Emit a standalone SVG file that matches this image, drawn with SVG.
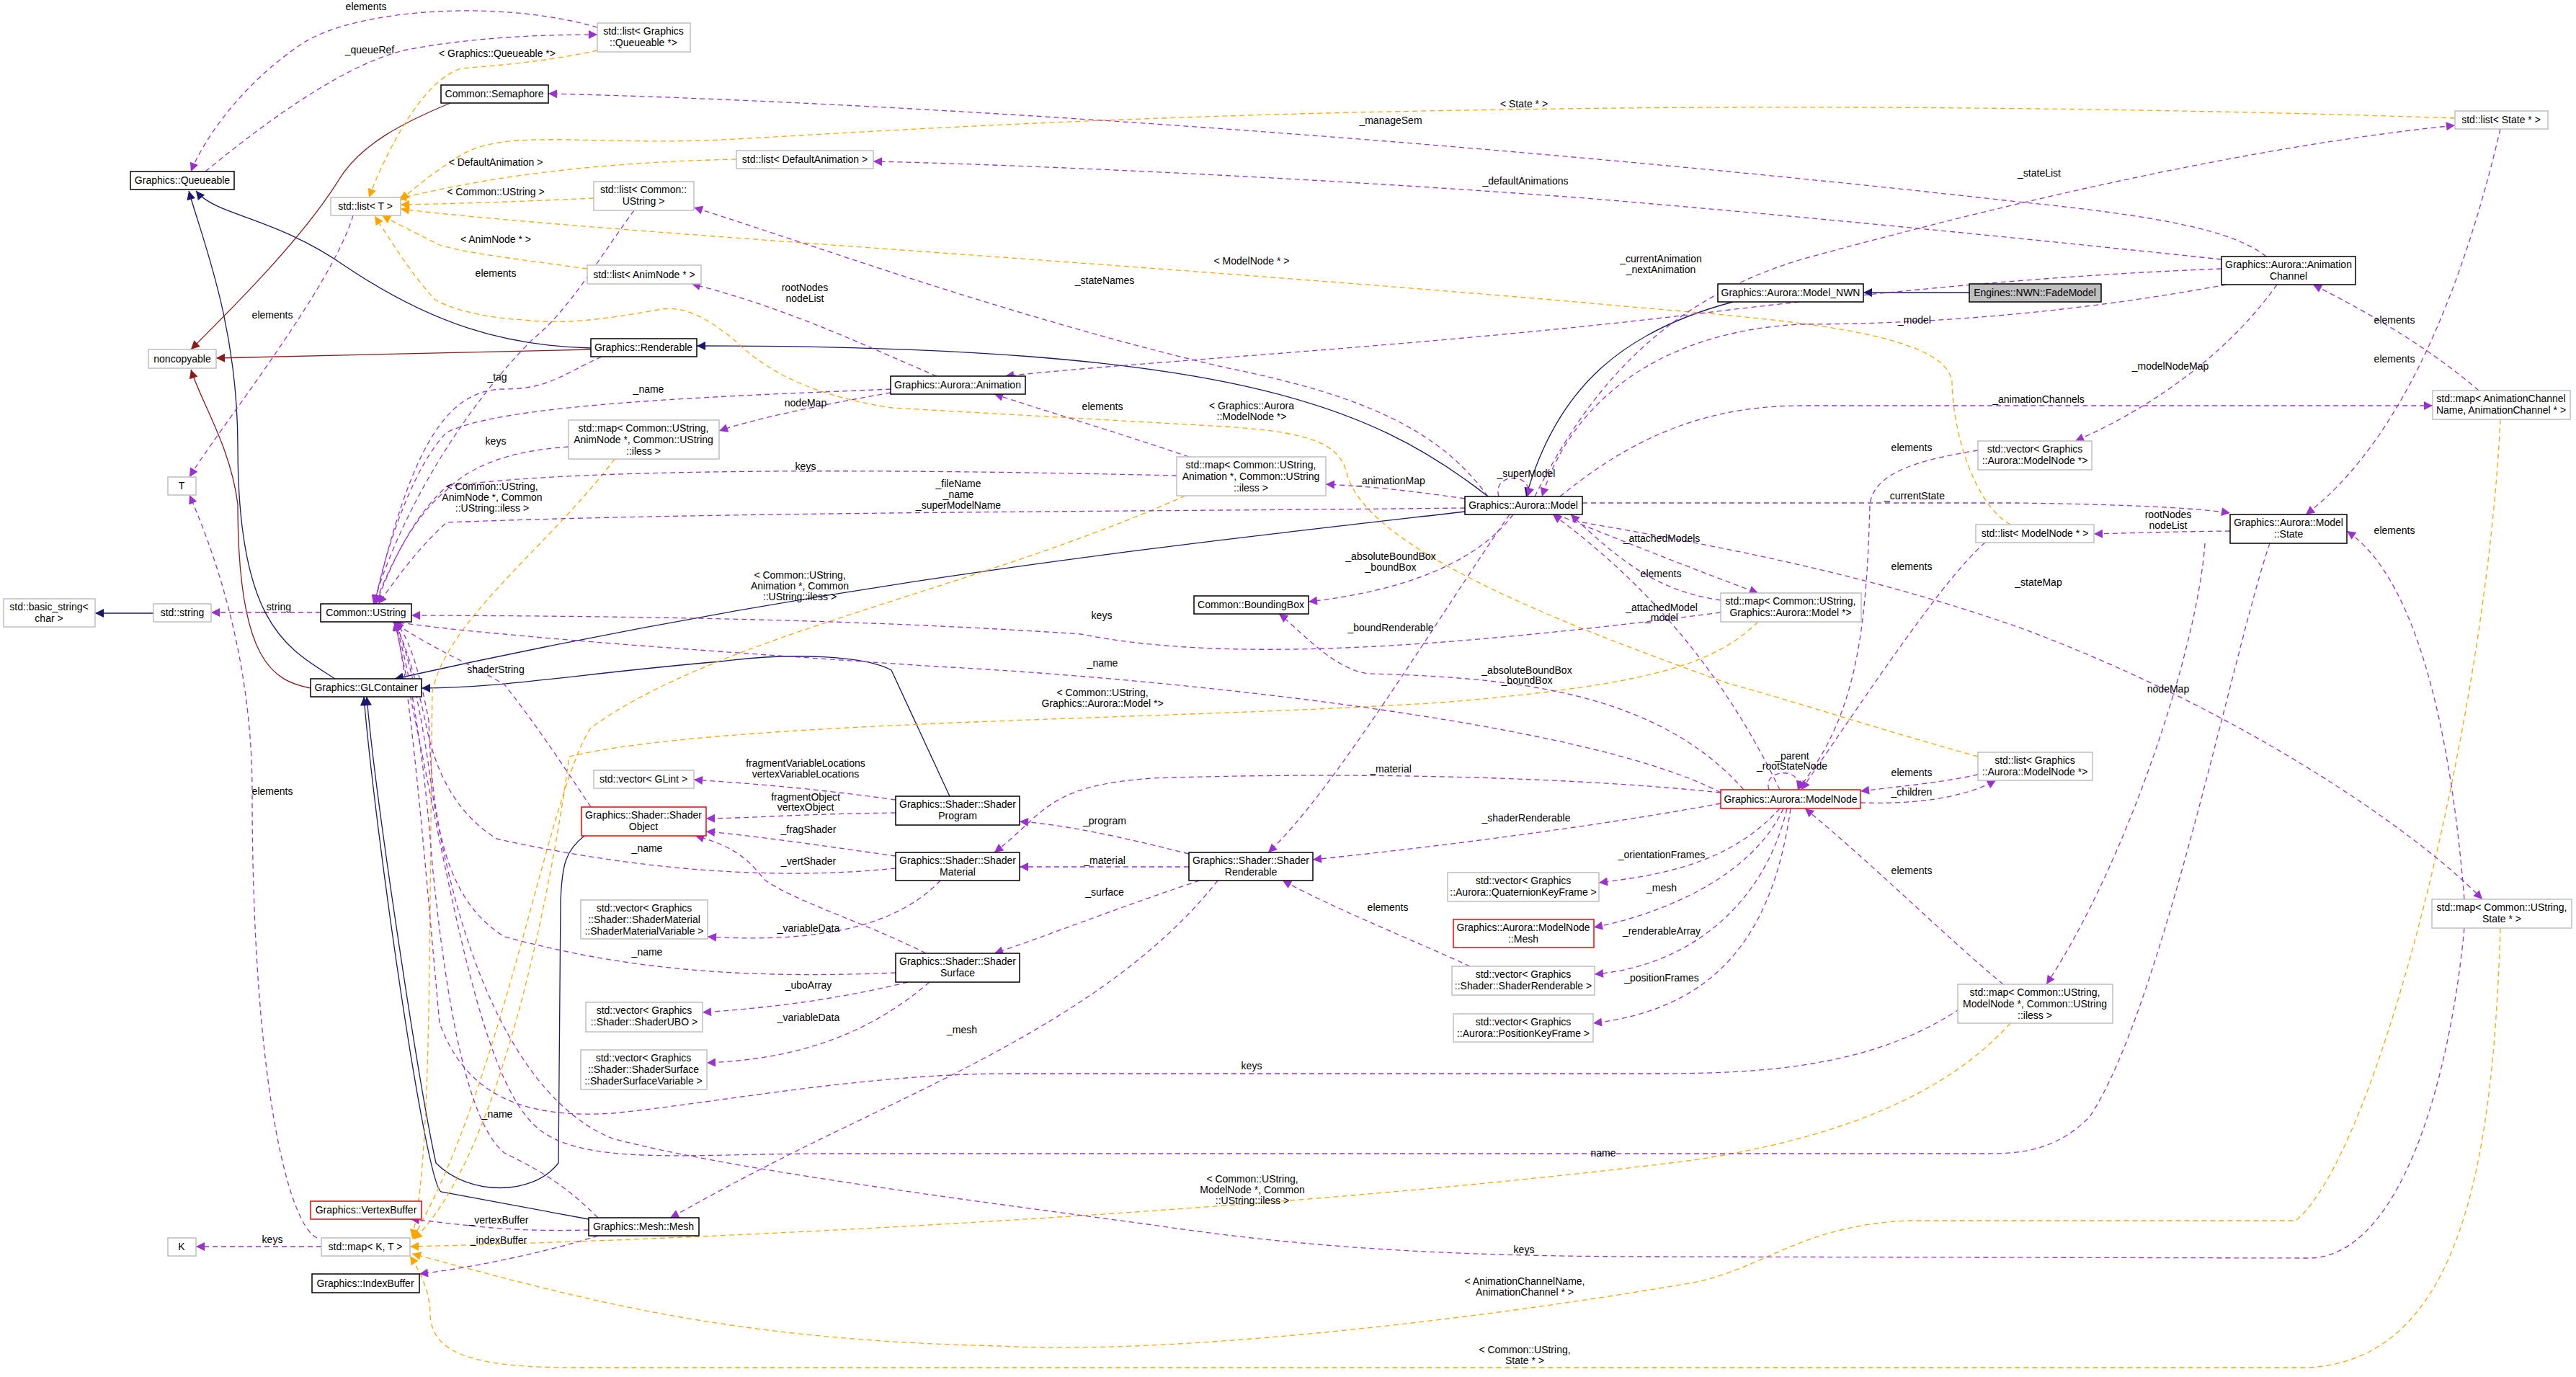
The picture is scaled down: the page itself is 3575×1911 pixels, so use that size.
<svg xmlns="http://www.w3.org/2000/svg" width="3575" height="1911" viewBox="0 0 3575 1911">
<style>
text{font-family:"Liberation Sans",Arial,sans-serif;font-size:14px;fill:#000}
.n rect{fill:#fff;stroke:#000;stroke-width:1.5}
.g rect{fill:#fff;stroke:#bfbfbf;stroke-width:1.5}
.r rect{fill:#fff;stroke:#ff0000;stroke-width:1.5}
.f rect{fill:#bfbfbf;stroke:#000;stroke-width:1.5}
.n text,.g text,.r text,.f text{text-anchor:middle}
.e path{fill:none;stroke-width:1.3}
.p{stroke:#9a32cd;stroke-dasharray:7,5;marker-end:url(#mP)}
.o{stroke:#ffa500;stroke-dasharray:7,5;marker-end:url(#mO)}
.i{stroke:#191970;marker-end:url(#mN)}
.k{stroke:#8b1a1a;marker-end:url(#mR)}
.l text{text-anchor:middle}
</style>
<defs>
<marker id="mP" viewBox="0 0 10 10" refX="10" refY="5" markerWidth="14" markerHeight="12" markerUnits="userSpaceOnUse" orient="auto"><path d="M0,0L10,5L0,10z" fill="#9a32cd"/></marker>
<marker id="mO" viewBox="0 0 10 10" refX="10" refY="5" markerWidth="14" markerHeight="12" markerUnits="userSpaceOnUse" orient="auto"><path d="M0,0L10,5L0,10z" fill="#ffa500"/></marker>
<marker id="mN" viewBox="0 0 10 10" refX="10" refY="5" markerWidth="14" markerHeight="12" markerUnits="userSpaceOnUse" orient="auto"><path d="M0,0L10,5L0,10z" fill="#191970"/></marker>
<marker id="mR" viewBox="0 0 10 10" refX="10" refY="5" markerWidth="14" markerHeight="12" markerUnits="userSpaceOnUse" orient="auto"><path d="M0,0L10,5L0,10z" fill="#8b1a1a"/></marker>
</defs>
<rect width="3575" height="1911" fill="#fff"/>
<g id="edges" class="e">
<path class="i" d="M820,483 C700,480 600,450 480,370 C380,300 300,300 272,265"/>
<path class="i" d="M465,942 C400,900 330,870 330,620 C330,450 280,330 262,265"/>
<path class="i" d="M2065,689 C1900,560 1700,480 967,480"/>
<path class="i" d="M2033,710 C1600,760 1150,808 548,942"/>
<path class="i" d="M1318,1105 L1237,930 C1200,910 1100,905 1000,918 C800,935 700,955 585,955"/>
<path class="i" d="M811,1160 C785,1180 780,1200 778,1250 L775,1614 C740,1660 650,1660 605,1614 C580,1500 520,1100 509,967"/>
<path class="i" d="M817,1692 L612,1654 C590,1640 520,1150 505,967"/>
<path class="i" d="M2405,419 C2250,460 2160,540 2118,689"/>
<path class="i" d="M2733,406 L2586,406"/>
<path class="i" d="M213,851 L132,851"/>
<path class="k" d="M625,143 C560,170 500,200 470,250 C420,330 330,420 265,485"/>
<path class="k" d="M820,485 L300,497"/>
<path class="k" d="M431,955 C380,945 330,920 330,700 C320,620 280,560 265,513"/>
<path class="o" d="M829,70 C760,85 700,90 640,95 C590,110 540,200 512,274"/>
<path class="o" d="M1022,221 C850,225 700,240 552,276"/>
<path class="o" d="M824,275 C720,280 620,283 556,284"/>
<path class="o" d="M815,373 C720,360 640,350 610,340 C590,330 560,315 530,299"/>
<path class="o" d="M3407,164 C3000,150 2500,145 2100,152 C1500,160 1100,190 980,195 C800,200 700,180 640,215 C600,240 570,265 556,278"/>
<path class="o" d="M2790,728 C2740,700 2710,600 2709,530 C2700,450 2400,440 2200,420 C1500,360 800,320 556,290"/>
<path class="o" d="M2745,1050 C2600,1010 2480,970 2400,949 C2150,860 1900,760 1870,660 C1860,615 1820,600 1700,592 L1238,566 C1100,545 1050,500 1018,471 C980,440 950,425 918,429 C830,445 780,450 727,444 C650,440 610,420 604,416 C570,380 540,330 520,300"/>
<path class="o" d="M853,637 C760,760 620,860 600,960 C595,1300 600,1600 572,1718"/>
<path class="o" d="M1645,688 C1350,820 1000,880 820,1010 C760,1100 700,1500 572,1720"/>
<path class="o" d="M2440,863 C2380,920 2300,950 2000,975 C1600,1000 1000,1000 790,1050 C770,1200 700,1600 574,1720"/>
<path class="o" d="M2790,1420 C2700,1520 2550,1580 2350,1610 C1800,1680 1000,1720 569,1730"/>
<path class="o" d="M3470,582 C3450,1000 3300,1600 3186,1694 L2650,1694 C2500,1700 2450,1760 2350,1780 C2000,1840 1600,1880 1389,1868 C1000,1860 800,1800 572,1740"/>
<path class="o" d="M3470,1288 C3460,1600 3420,1890 3200,1898 L800,1898 C660,1898 600,1880 597,1825 C597,1790 580,1760 569,1743"/>
<path class="p" d="M829,38 C700,0 500,10 420,60 C330,120 280,200 265,238"/>
<path class="p" d="M285,238 C380,160 480,90 560,70 C650,52 750,48 829,48"/>
<path class="p" d="M490,299 C460,400 300,600 263,662"/>
<path class="p" d="M440,1718 C400,1700 350,1500 350,1100 C350,900 290,750 263,687"/>
<path class="p" d="M446,1730 L272,1730"/>
<path class="p" d="M445,850 L293,850"/>
<path class="p" d="M835,495 C780,520 760,540 700,540 C620,540 570,620 520,838"/>
<path class="p" d="M1236,540 C1000,550 700,560 620,600 C580,640 540,740 520,838"/>
<path class="p" d="M789,620 C720,625 660,640 620,680 C570,720 540,790 520,838"/>
<path class="p" d="M1633,660 C1200,650 800,650 620,675 C570,720 540,790 522,838"/>
<path class="p" d="M2033,705 C1600,710 1000,710 620,725 C580,760 545,810 525,838"/>
<path class="p" d="M2388,850 C2000,900 1700,920 1500,880 C1200,860 900,855 571,854"/>
<path class="p" d="M2388,1100 C2200,1000 1600,940 1300,925 C1000,905 800,890 700,880 C640,875 600,870 545,863"/>
<path class="p" d="M880,292 C830,360 790,430 740,470 C650,560 560,700 518,838"/>
<path class="p" d="M820,1120 C780,1060 740,1000 700,950 C650,920 600,900 545,863"/>
<path class="p" d="M1243,1205 C1050,1225 850,1200 689,1164 C620,1120 600,1050 590,1000 C575,930 560,890 548,863"/>
<path class="p" d="M1243,1350 C1000,1360 850,1340 700,1300 C620,1250 600,1150 595,1000 C580,920 565,880 548,863"/>
<path class="p" d="M2720,1400 C2600,1480 2450,1490 2300,1490 L1400,1490 C1200,1490 1000,1530 850,1545 C700,1555 640,1500 610,1420 C590,1200 570,950 548,863"/>
<path class="p" d="M3150,754 C3100,900 3000,1400 2900,1550 C2850,1600 2800,1601 2750,1601 L1150,1601 C950,1601 800,1620 740,1560 C660,1480 620,1200 548,863"/>
<path class="p" d="M830,1690 C780,1640 740,1620 700,1600 C650,1560 620,1400 600,1200 C585,1000 560,900 548,863"/>
<path class="p" d="M3420,1288 C3400,1500 3330,1750 3200,1746 L2300,1744 C2000,1744 1800,1730 1600,1700 C1300,1660 1000,1620 850,1580 C750,1540 650,1400 600,1100 C580,950 560,890 548,863"/>
<path class="p" d="M3145,356 C3100,320 3000,300 2800,280 C2000,190 1200,140 761,130"/>
<path class="p" d="M3083,360 C2800,330 2500,300 2200,275 C1800,245 1400,228 1212,224"/>
<path class="p" d="M2065,689 C2000,600 1900,550 1700,510 C1400,440 1100,330 963,288"/>
<path class="p" d="M1300,522 C1200,480 1100,430 960,394"/>
<path class="p" d="M1236,545 C1150,560 1050,580 998,598"/>
<path class="p" d="M3083,373 C2900,380 2700,395 2400,430 C2000,480 1600,500 1395,522"/>
<path class="p" d="M1650,634 C1550,600 1450,570 1380,547"/>
<path class="p" d="M2033,692 C1950,680 1900,675 1840,672"/>
<path class="p" d="M2130,689 C2200,550 2300,420 2500,360 C2900,250 3200,195 3407,174"/>
<path class="p" d="M3090,395 C2900,430 2700,450 2500,450 C2300,460 2180,560 2140,689"/>
<path class="p" d="M2165,689 C2250,620 2350,563 2500,563 L3376,563"/>
<path class="p" d="M3160,395 C3100,480 3000,560 2880,612"/>
<path class="p" d="M3440,542 C3380,490 3300,440 3210,395"/>
<path class="p" d="M3470,179 C3430,350 3350,600 3200,714"/>
<path class="p" d="M2196,698 L2800,698 C2950,700 3050,705 3095,712"/>
<path class="p" d="M3095,737 C3000,738 2950,740 2906,741"/>
<path class="p" d="M3420,1248 C3400,1000 3350,800 3257,737"/>
<path class="p" d="M2196,725 C2400,760 2600,800 2800,870 C3100,980 3350,1150 3445,1248"/>
<path class="p" d="M2160,714 C2250,750 2350,790 2440,823"/>
<path class="p" d="M2388,833 C2300,820 2250,780 2180,714"/>
<path class="p" d="M2470,1096 C2400,950 2300,820 2155,714"/>
<path class="p" d="M2100,714 C2050,780 1950,820 1816,835"/>
<path class="p" d="M2420,1096 C2300,960 2100,940 1900,935 C1850,930 1800,870 1775,852"/>
<path class="p" d="M2095,714 C2000,850 1850,1100 1760,1183"/>
<path class="p" d="M2080,689 C2070,655 2130,655 2120,689"/>
<path class="p" d="M2455,1096 C2445,1065 2505,1065 2495,1096"/>
<path class="p" d="M2745,1075 C2700,1085 2650,1090 2582,1098"/>
<path class="p" d="M2582,1114 C2650,1116 2720,1110 2770,1083"/>
<path class="p" d="M2745,625 C2650,640 2600,660 2595,700 C2590,900 2570,1000 2495,1096"/>
<path class="p" d="M2755,753 C2700,800 2600,950 2500,1096"/>
<path class="p" d="M2780,1366 C2700,1300 2600,1200 2505,1122"/>
<path class="p" d="M3060,754 C3050,900 2950,1200 2840,1366"/>
<path class="p" d="M2388,1100 C2200,1080 1900,1070 1600,1080 C1450,1090 1450,1130 1380,1183"/>
<path class="p" d="M2388,1115 C2200,1150 1950,1180 1822,1193"/>
<path class="p" d="M2470,1122 C2400,1200 2300,1215 2219,1225"/>
<path class="p" d="M2475,1122 C2430,1220 2300,1270 2212,1287"/>
<path class="p" d="M2480,1122 C2450,1250 2350,1340 2213,1352"/>
<path class="p" d="M2485,1122 C2460,1300 2380,1400 2211,1420"/>
<path class="p" d="M1650,1185 C1550,1160 1480,1145 1415,1140"/>
<path class="p" d="M1650,1203 L1415,1203"/>
<path class="p" d="M1665,1222 C1550,1260 1450,1300 1380,1323"/>
<path class="p" d="M1690,1222 C1550,1400 1300,1500 1100,1600 C1000,1650 950,1680 930,1690"/>
<path class="p" d="M2040,1341 C1950,1300 1850,1260 1780,1222"/>
<path class="p" d="M1243,1110 C1100,1090 1000,1085 963,1082"/>
<path class="p" d="M1243,1128 C1100,1130 1050,1135 980,1136"/>
<path class="p" d="M1243,1188 C1150,1175 1050,1160 980,1154"/>
<path class="p" d="M1285,1323 C1200,1280 1100,1250 1060,1220 C1030,1180 1000,1170 965,1160"/>
<path class="p" d="M1305,1222 C1250,1280 1150,1310 982,1300"/>
<path class="p" d="M1260,1363 C1150,1390 1050,1400 975,1405"/>
<path class="p" d="M1290,1363 C1200,1440 1100,1470 981,1475"/>
<path class="p" d="M817,1707 C700,1710 650,1700 570,1692"/>
<path class="p" d="M830,1715 C750,1740 650,1760 582,1768"/>
</g>
<g class="l">
<text x="508" y="14">elements</text><text x="513" y="74">_queueRef</text>
<text x="690" y="79">&lt; Graphics::Queueable *&gt;</text>
<text x="688" y="230">&lt; DefaultAnimation &gt;</text>
<text x="688" y="271">&lt; Common::UString &gt;</text>
<text x="688" y="337">&lt; AnimNode * &gt;</text>
<text x="2115" y="149">&lt; State * &gt;</text>
<text x="1737" y="367">&lt; ModelNode * &gt;</text>
<text x="1737" y="568">&lt; Graphics::Aurora</text><text x="1737" y="583">::ModelNode *&gt;</text>
<text x="378" y="442">elements</text><text x="378" y="1103">elements</text><text x="378" y="1725">keys</text>
<text x="383" y="847">_string</text>
<text x="690" y="528">_tag</text><text x="900" y="545">_name</text><text x="688" y="617">keys</text>
<text x="1118" y="652">keys</text>
<text x="1330" y="676">_fileName</text><text x="1330" y="691">_name</text><text x="1330" y="706">_superModelName</text>
<text x="1529" y="859">keys</text><text x="1530" y="925">_name</text>
<text x="688" y="384">elements</text><text x="688" y="934">shaderString</text>
<text x="898" y="1182">_name</text><text x="898" y="1326">_name</text>
<text x="1737" y="1484">keys</text><text x="2225" y="1605">name</text><text x="690" y="1551">_name</text><text x="2115" y="1739">keys</text>
<text x="683" y="680">&lt; Common::UString,</text><text x="683" y="695">AnimNode *, Common</text><text x="683" y="710">::UString::iless &gt;</text>
<text x="1110" y="803">&lt; Common::UString,</text><text x="1110" y="818">Animation *, Common</text><text x="1110" y="833">::UString::iless &gt;</text>
<text x="1530" y="966">&lt; Common::UString,</text><text x="1530" y="981">Graphics::Aurora::Model *&gt;</text>
<text x="1738" y="1641">&lt; Common::UString,</text><text x="1738" y="1656">ModelNode *, Common</text><text x="1738" y="1671">::UString::iless &gt;</text>
<text x="2116" y="1783">&lt; AnimationChannelName,</text><text x="2116" y="1798">AnimationChannel * &gt;</text>
<text x="2116" y="1878">&lt; Common::UString,</text><text x="2116" y="1893">State * &gt;</text>
<text x="1930" y="172">_manageSem</text><text x="2117" y="256">_defaultAnimations</text>
<text x="1533" y="394">_stateNames</text>
<text x="1117" y="404">rootNodes</text><text x="1117" y="419">nodeList</text>
<text x="1118" y="564">nodeMap</text>
<text x="2305" y="364">_currentAnimation</text><text x="2305" y="379">_nextAnimation</text>
<text x="1530" y="569">elements</text><text x="1930" y="672">_animationMap</text>
<text x="2830" y="245">_stateList</text><text x="2657" y="449">_model</text>
<text x="2829" y="559">_animationChannels</text><text x="3012" y="513">_modelNodeMap</text>
<text x="3323" y="449">elements</text><text x="3323" y="503">elements</text>
<text x="2657" y="693">_currentState</text>
<text x="3009" y="719">rootNodes</text><text x="3009" y="734">nodeList</text>
<text x="3323" y="741">elements</text><text x="2829" y="813">_stateMap</text>
<text x="2306" y="752">_attachedModels</text><text x="2305" y="801">elements</text>
<text x="2306" y="848">_attachedModel</text><text x="2306" y="862">_model</text>
<text x="1930" y="777">_absoluteBoundBox</text><text x="1930" y="792">_boundBox</text>
<text x="2119" y="935">_absoluteBoundBox</text><text x="2119" y="949">_boundBox</text>
<text x="1930" y="876">_boundRenderable</text>
<text x="2118" y="662">_superModel</text>
<text x="2487" y="1054">_parent</text><text x="2487" y="1068">_rootStateNode</text>
<text x="2653" y="1077">elements</text><text x="2653" y="1104">_children</text>
<text x="2653" y="626">elements</text><text x="2653" y="791">elements</text><text x="2653" y="1213">elements</text>
<text x="3009" y="961">nodeMap</text>
<text x="1930" y="1072">_material</text><text x="2118" y="1140">_shaderRenderable</text>
<text x="2306" y="1191">_orientationFrames</text><text x="2306" y="1237">_mesh</text>
<text x="2306" y="1297">_renderableArray</text><text x="2306" y="1362">_positionFrames</text>
<text x="1533" y="1144">_program</text><text x="1533" y="1199">_material</text><text x="1533" y="1243">_surface</text>
<text x="1335" y="1434">_mesh</text><text x="1926" y="1264">elements</text>
<text x="1118" y="1064">fragmentVariableLocations</text><text x="1118" y="1079">vertexVariableLocations</text>
<text x="1118" y="1111">fragmentObject</text><text x="1118" y="1125">vertexObject</text>
<text x="1122" y="1156">_fragShader</text><text x="1122" y="1200">_vertShader</text>
<text x="1122" y="1293">_variableData</text><text x="1122" y="1372">_uboArray</text><text x="1122" y="1417">_variableData</text>
<text x="692" y="1698">_vertexBuffer</text><text x="692" y="1726">_indexBuffer</text>
</g>
<g id="n_lq" class="g"><rect x="829" y="32" width="129" height="40"/><text x="893" y="48">std::list&lt; Graphics</text><text x="893" y="64">::Queueable *&gt;</text></g>
<g id="n_sem" class="n"><rect x="612" y="118" width="149" height="25"/><text x="686" y="135">Common::Semaphore</text></g>
<g id="n_q" class="n"><rect x="181" y="238" width="144" height="25"/><text x="253" y="255">Graphics::Queueable</text></g>
<g id="n_lda" class="g"><rect x="1022" y="209" width="190" height="25"/><text x="1117" y="226">std::list&lt; DefaultAnimation &gt;</text></g>
<g id="n_lt" class="g"><rect x="459" y="274" width="97" height="25"/><text x="507" y="291">std::list&lt; T &gt;</text></g>
<g id="n_lus" class="g"><rect x="824" y="252" width="139" height="40"/><text x="893" y="268">std::list&lt; Common::</text><text x="893" y="284">UString &gt;</text></g>
<g id="n_lan" class="g"><rect x="815" y="368" width="158" height="26"/><text x="894" y="386">std::list&lt; AnimNode * &gt;</text></g>
<g id="n_rend" class="n"><rect x="820" y="470" width="147" height="25"/><text x="893" y="487">Graphics::Renderable</text></g>
<g id="n_nc" class="g"><rect x="206" y="485" width="94" height="26"/><text x="253" y="503">noncopyable</text></g>
<g id="n_man" class="g"><rect x="789" y="583" width="209" height="54"/><text x="893" y="599">std::map&lt; Common::UString,</text><text x="893" y="615">AnimNode *, Common::UString</text><text x="893" y="631">::iless &gt;</text></g>
<g id="n_t" class="g"><rect x="233" y="662" width="39" height="25"/><text x="252" y="679">T</text></g>
<g id="n_bs" class="g"><rect x="5" y="831" width="127" height="39"/><text x="68" y="847">std::basic_string&lt;</text><text x="68" y="863">char &gt;</text></g>
<g id="n_ss" class="g"><rect x="213" y="838" width="80" height="25"/><text x="253" y="855">std::string</text></g>
<g id="n_us" class="n"><rect x="445" y="838" width="126" height="25"/><text x="508" y="855">Common::UString</text></g>
<g id="n_glc" class="n"><rect x="431" y="942" width="154" height="25"/><text x="508" y="959">Graphics::GLContainer</text></g>
<g id="n_vgl" class="g"><rect x="824" y="1069" width="139" height="25"/><text x="893" y="1086">std::vector&lt; GLint &gt;</text></g>
<g id="n_so" class="r"><rect x="807" y="1120" width="173" height="40"/><text x="893" y="1136">Graphics::Shader::Shader</text><text x="893" y="1152">Object</text></g>
<g id="n_vsmv" class="g"><rect x="806" y="1249" width="176" height="54"/><text x="894" y="1265">std::vector&lt; Graphics</text><text x="894" y="1281">::Shader::ShaderMaterial</text><text x="894" y="1297">::ShaderMaterialVariable &gt;</text></g>
<g id="n_vubo" class="g"><rect x="813" y="1391" width="162" height="41"/><text x="894" y="1407">std::vector&lt; Graphics</text><text x="894" y="1423">::Shader::ShaderUBO &gt;</text></g>
<g id="n_vssv" class="g"><rect x="806" y="1457" width="175" height="55"/><text x="893" y="1473">std::vector&lt; Graphics</text><text x="893" y="1489">::Shader::ShaderSurface</text><text x="893" y="1505">::ShaderSurfaceVariable &gt;</text></g>
<g id="n_vb" class="r"><rect x="431" y="1667" width="154" height="25"/><text x="508" y="1684">Graphics::VertexBuffer</text></g>
<g id="n_mesh" class="n"><rect x="817" y="1690" width="153" height="25"/><text x="893" y="1707">Graphics::Mesh::Mesh</text></g>
<g id="n_k" class="g"><rect x="233" y="1718" width="39" height="25"/><text x="252" y="1735">K</text></g>
<g id="n_mkt" class="g"><rect x="446" y="1718" width="123" height="25"/><text x="507" y="1735">std::map&lt; K, T &gt;</text></g>
<g id="n_ib" class="n"><rect x="433" y="1768" width="149" height="26"/><text x="507" y="1786">Graphics::IndexBuffer</text></g>
<g id="n_anim" class="n"><rect x="1236" y="522" width="187" height="25"/><text x="1329" y="539">Graphics::Aurora::Animation</text></g>
<g id="n_mua" class="g"><rect x="1633" y="634" width="207" height="54"/><text x="1736" y="650">std::map&lt; Common::UString,</text><text x="1736" y="666">Animation *, Common::UString</text><text x="1736" y="682">::iless &gt;</text></g>
<g id="n_model" class="n"><rect x="2033" y="689" width="163" height="25"/><text x="2114" y="706">Graphics::Aurora::Model</text></g>
<g id="n_bb" class="n"><rect x="1657" y="827" width="159" height="25"/><text x="1736" y="844">Common::BoundingBox</text></g>
<g id="n_sp" class="n"><rect x="1243" y="1105" width="172" height="40"/><text x="1329" y="1121">Graphics::Shader::Shader</text><text x="1329" y="1137">Program</text></g>
<g id="n_sm" class="n"><rect x="1243" y="1183" width="172" height="39"/><text x="1329" y="1199">Graphics::Shader::Shader</text><text x="1329" y="1215">Material</text></g>
<g id="n_ssurf" class="n"><rect x="1243" y="1323" width="172" height="40"/><text x="1329" y="1339">Graphics::Shader::Shader</text><text x="1329" y="1355">Surface</text></g>
<g id="n_sr" class="n"><rect x="1650" y="1183" width="172" height="39"/><text x="1736" y="1199">Graphics::Shader::Shader</text><text x="1736" y="1215">Renderable</text></g>
<g id="n_vqk" class="g"><rect x="2009" y="1211" width="210" height="40"/><text x="2114" y="1227">std::vector&lt; Graphics</text><text x="2114" y="1243">::Aurora::QuaternionKeyFrame &gt;</text></g>
<g id="n_mnmesh" class="r"><rect x="2017" y="1276" width="195" height="39"/><text x="2114" y="1292">Graphics::Aurora::ModelNode</text><text x="2114" y="1308">::Mesh</text></g>
<g id="n_vsr" class="g"><rect x="2015" y="1341" width="198" height="40"/><text x="2114" y="1357">std::vector&lt; Graphics</text><text x="2114" y="1373">::Shader::ShaderRenderable &gt;</text></g>
<g id="n_vpk" class="g"><rect x="2017" y="1407" width="194" height="39"/><text x="2114" y="1423">std::vector&lt; Graphics</text><text x="2114" y="1439">::Aurora::PositionKeyFrame &gt;</text></g>
<g id="n_ls" class="g"><rect x="3407" y="154" width="129" height="25"/><text x="3471" y="171">std::list&lt; State * &gt;</text></g>
<g id="n_ac" class="n"><rect x="3083" y="356" width="186" height="39"/><text x="3176" y="372">Graphics::Aurora::Animation</text><text x="3176" y="388">Channel</text></g>
<g id="n_mnwn" class="n"><rect x="2384" y="394" width="202" height="25"/><text x="2485" y="411">Graphics::Aurora::Model_NWN</text></g>
<g id="n_fade" class="f"><rect x="2733" y="394" width="183" height="25"/><text x="2824" y="411">Engines::NWN::FadeModel</text></g>
<g id="n_macn" class="g"><rect x="3376" y="542" width="191" height="40"/><text x="3471" y="558">std::map&lt; AnimationChannel</text><text x="3471" y="574">Name, AnimationChannel * &gt;</text></g>
<g id="n_vmn" class="g"><rect x="2745" y="612" width="158" height="40"/><text x="2824" y="628">std::vector&lt; Graphics</text><text x="2824" y="644">::Aurora::ModelNode *&gt;</text></g>
<g id="n_state" class="n"><rect x="3095" y="714" width="162" height="40"/><text x="3176" y="730">Graphics::Aurora::Model</text><text x="3176" y="746">::State</text></g>
<g id="n_lmn" class="g"><rect x="2742" y="728" width="164" height="25"/><text x="2824" y="745">std::list&lt; ModelNode * &gt;</text></g>
<g id="n_mum" class="g"><rect x="2388" y="823" width="195" height="40"/><text x="2485" y="839">std::map&lt; Common::UString,</text><text x="2485" y="855">Graphics::Aurora::Model *&gt;</text></g>
<g id="n_mn" class="r"><rect x="2388" y="1096" width="194" height="26"/><text x="2485" y="1114">Graphics::Aurora::ModelNode</text></g>
<g id="n_lgmn" class="g"><rect x="2745" y="1044" width="159" height="39"/><text x="2824" y="1060">std::list&lt; Graphics</text><text x="2824" y="1076">::Aurora::ModelNode *&gt;</text></g>
<g id="n_mumn" class="g"><rect x="2717" y="1366" width="215" height="54"/><text x="2824" y="1382">std::map&lt; Common::UString,</text><text x="2824" y="1398">ModelNode *, Common::UString</text><text x="2824" y="1414">::iless &gt;</text></g>
<g id="n_mus" class="g"><rect x="3375" y="1248" width="194" height="40"/><text x="3472" y="1264">std::map&lt; Common::UString,</text><text x="3472" y="1280">State * &gt;</text></g>
</svg>
